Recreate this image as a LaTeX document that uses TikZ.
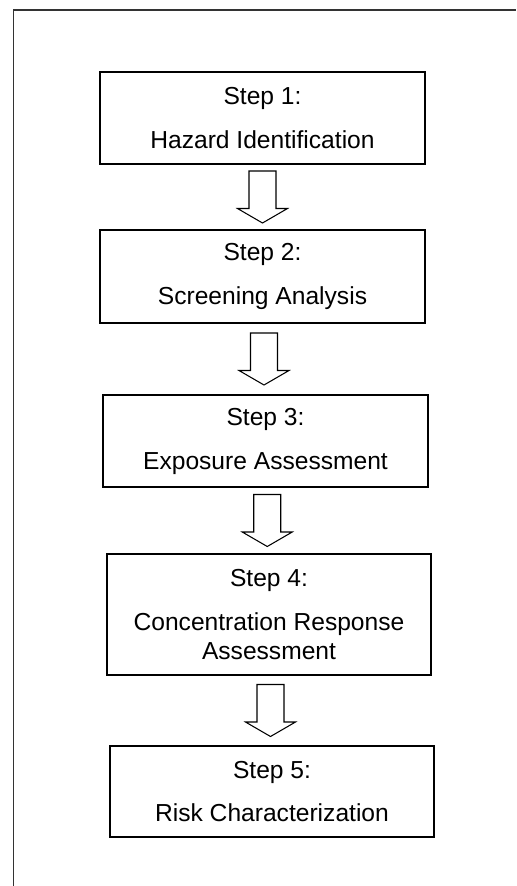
\documentclass[tikz,border=0pt]{standalone}
\usepackage{fontspec}
\setmainfont{Liberation Sans}
\usetikzlibrary{calc}

\tikzset{
  stepbox/.style={draw=black, line width=0.9pt, minimum width=6.5cm, minimum height=1.84cm,
                  inner sep=0pt, align=center, font=\fontsize{14}{17}\selectfont},
  flowarrow/.style={draw=black, line width=0.6pt, fill=white},
}
% hollow block arrow halfway between two boxes
\newcommand{\flowstep}[2]{%
  \coordinate (m) at ($(#1.south)!0.5!(#2.north)$);
  \draw [flowarrow] ($(m)+(-0.27,0.52)$) -- ($(m)+(-0.27,-0.23)$) -- ($(m)+(-0.5,-0.23)$)
        -- ($(m)+(0,-0.52)$) -- ($(m)+(0.5,-0.23)$) -- ($(m)+(0.27,-0.23)$)
        -- ($(m)+(0.27,0.52)$) -- cycle;
}

\begin{document}
\begin{tikzpicture}
    \useasboundingbox (0,0) rectangle (10.32,-17.72);
    \draw [line width=1pt, black!80] (0.27,-17.72) -- (0.27,-0.2) -- (10.32,-0.2);

    \node [stepbox] (s1) at (5.25,-2.36) {Step 1:\\[8pt]Hazard Identification};
    \node [stepbox, minimum height=1.86cm] (s2) at (5.25,-5.53) {Step 2:\\[8pt]Screening Analysis};
    \node [stepbox] (s3) at (5.31,-8.82) {Step 3:\\[8pt]Exposure Assessment};
    \node [stepbox, minimum width=6.48cm, minimum height=2.42cm] (s4) at (5.38,-12.29)
          {Step 4:\\[8pt]Concentration Response\\Assessment};
    \node [stepbox, minimum width=6.48cm, minimum height=1.82cm] (s5) at (5.44,-15.83)
          {Step 5:\\[8pt]Risk Characterization};

    \flowstep{s1}{s2}
    \flowstep{s2}{s3}
    \flowstep{s3}{s4}
    \flowstep{s4}{s5}
\end{tikzpicture}
\end{document}
